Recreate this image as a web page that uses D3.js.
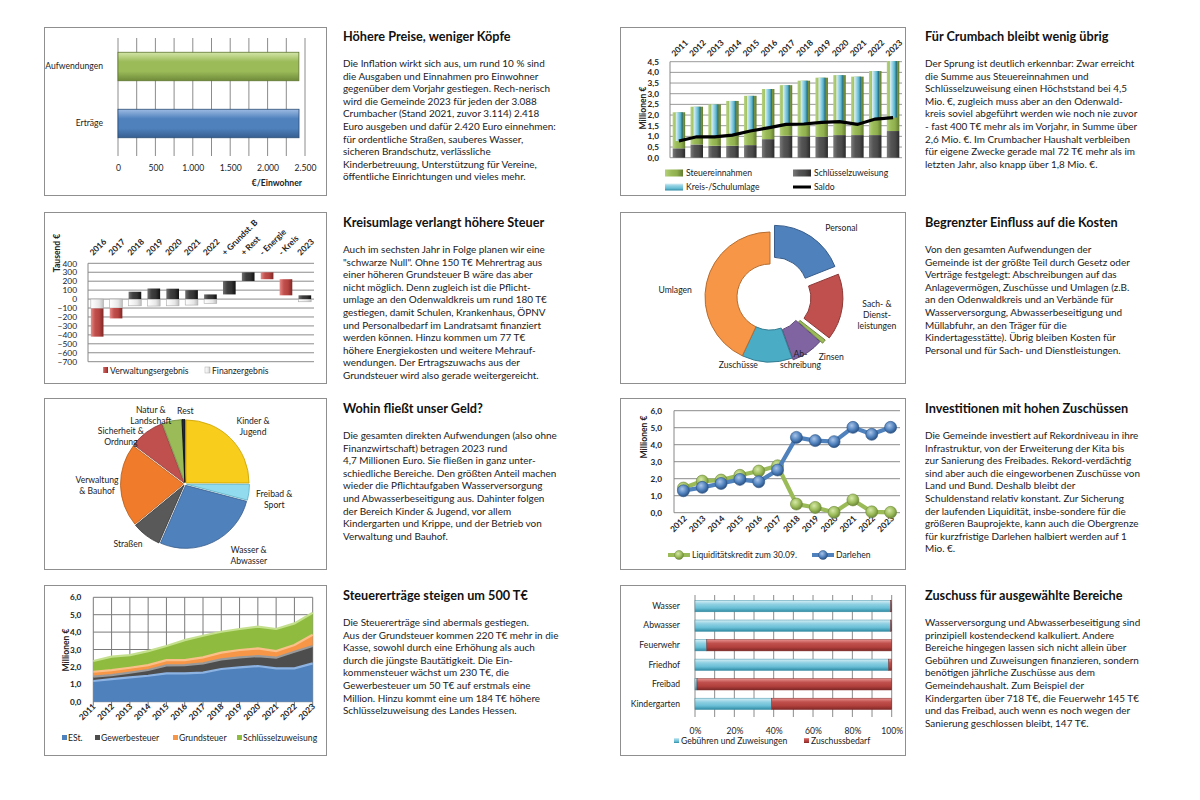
<!DOCTYPE html>
<html>
<head>
<meta charset="utf-8">
<script src="https://cdn.jsdelivr.net/npm/d3@7"></script>
<style>
    body { margin: 0; background: #fff; }
    svg text { font-family: Lato, "Open Sans", sans-serif; fill: #222; }
    .titel { font-size: 12.7px; font-weight: bold; fill: #111; }
    .fliess { font-size: 9.95px; }
    .tick text { font-size: 8.6px; fill: #222; }
    .lbl { font-size: 8.6px; }
    .achsTitel { font-size: 8.6px; font-weight: bold; }
    .jahr { font-size: 8.4px; font-weight: bold; }
</style>
</head>
<body>
<script>
    // Daten
    var proKopfKat = ["Aufwendungen", "Erträge"];
    var proKopfWerte = [2418, 2420];
    var proKopfTicks = [0, 500, 1000, 1500, 2000, 2500];

    var jahreA = ["2011", "2012", "2013", "2014", "2015", "2016", "2017", "2018", "2019", "2020", "2021", "2022", "2023"];
    var steuereinnahmen = [1.69, 1.77, 1.94, 2.10, 2.31, 2.35, 2.37, 2.61, 2.77, 2.81, 2.74, 3.00, 3.28];
    var schluesselzuweisung = [0.44, 0.62, 0.56, 0.56, 0.59, 0.87, 1.03, 1.00, 0.98, 1.06, 1.06, 1.06, 1.25];
    var kreisumlage = [1.35, 1.41, 1.52, 1.60, 1.65, 1.82, 1.84, 2.03, 2.09, 2.18, 2.24, 2.25, 2.65];
    var saldo = [0.78, 0.98, 0.98, 1.06, 1.25, 1.40, 1.56, 1.58, 1.66, 1.69, 1.56, 1.81, 1.88];

    var wfKat = ["2016", "2017", "2018", "2019", "2020", "2021", "2022", "+ Grundst. B", "+ Rest", "- Energie", "- Kreis", "2023"];
    var verwaltungsergebnis = [-315, -116, 82, 118, 116, 100, 52, 150, 97, -77, -180, 42];
    var finanzergebnis = [-105, -100, -75, -78, -75, -67, -48, 0, 0, 0, 0, -30];
    var wfSchritt = [false, false, false, false, false, false, false, true, true, true, true, false];

    var kostenArt = ["Personal", "Sach- & Dienstleistungen", "Zinsen", "Abschreibung", "Zuschüsse", "Umlagen"];
    var kostenZeilen = [["Personal"], ["Sach- &", "Dienst-", "leistungen"], ["Zinsen"], ["Ab-", "schreibung"], ["Zuschüsse"], ["Umlagen"]];
    var kostenAnteil = [19, 16.5, 1, 8, 12.5, 43];

    var bereiche = ["Kinder & Jugend", "Freibad & Sport", "Wasser & Abwasser", "Straßen", "Verwaltung & Bauhof", "Sicherheit & Ordnung", "Natur & Landschaft", "Rest"];
    var bereichZeilen = [["Kinder &", "Jugend"], ["Freibad &", "Sport"], ["Wasser &", "Abwasser"], ["Straßen"], ["Verwaltung", "& Bauhof"], ["Sicherheit &", "Ordnung"], ["Natur &", "Landschaft"], ["Rest"]];
    var bereichWerte = [1175, 190, 1290, 350, 1000, 420, 235, 35];

    var jahreB = ["2012", "2013", "2014", "2015", "2016", "2017", "2018", "2019", "2020", "2021", "2022", "2023"];
    var liquiditaetskredit = [1.45, 1.86, 1.92, 2.20, 2.45, 2.76, 0.51, 0.31, 0.02, 0.75, 0.05, 0.02];
    var darlehen = [1.29, 1.49, 1.72, 1.96, 1.82, 2.51, 4.43, 4.24, 4.18, 5.02, 4.61, 5.02];

    var est = [1.19, 1.30, 1.40, 1.49, 1.63, 1.63, 1.67, 1.88, 1.97, 2.05, 1.92, 1.92, 2.20];
    var gewerbesteuer = [0.25, 0.23, 0.27, 0.33, 0.46, 0.47, 0.53, 0.55, 0.58, 0.57, 0.61, 0.95, 1.00];
    var grundsteuer = [0.28, 0.29, 0.28, 0.28, 0.30, 0.29, 0.35, 0.39, 0.42, 0.44, 0.38, 0.39, 0.65];
    var schluessel = [0.62, 0.77, 0.73, 0.81, 0.81, 1.15, 1.24, 1.20, 1.21, 1.25, 1.27, 1.24, 1.26];

    var zuschussKat = ["Wasser", "Abwasser", "Feuerwehr", "Friedhof", "Freibad", "Kindergarten"];
    var gebuehrenAnteil = [99.5, 99.5, 6, 98.5, 1, 39];
    var zuschussAnteil = [0.5, 0.5, 94, 1.5, 99, 61];

    var de = d3.formatLocale({decimal: ",", thousands: ".", grouping: [3], currency: ["", " €"]});
    var f1 = de.format(",.1f"), fTsd = de.format(",");

    var svg = d3.select("body").append("svg").attr("width", 1200).attr("height", 800);
    var defs = svg.append("defs");

    function lgrad(id, farben, senkrecht) {
        var g = defs.append("linearGradient").attr("id", id)
            .attr("x1", 0).attr("y1", 0).attr("x2", senkrecht ? 0 : 1).attr("y2", senkrecht ? 1 : 0);
        farben.forEach(function (c, i) {
            g.append("stop").attr("offset", i / (farben.length - 1)).attr("stop-color", c);
        });
    }
    lgrad("hGruen", ["#d4e6a8", "#9bbb59", "#9bbb59", "#6f8a3a"], true);
    lgrad("hBlau", ["#9dbbe2", "#4f81bd", "#4f81bd", "#365f91"], true);
    lgrad("vGruen", ["#b5d27c", "#9bbb59", "#8fae4d", "#637d2f"], false);
    lgrad("vGrau", ["#7a7a7a", "#555", "#4a4a4a", "#2a2a2a"], false);
    lgrad("vCyan", ["#e4f4f8", "#9ed6e6", "#5bb6cf", "#1f5f70"], false);
    lgrad("vRot", ["#e88a87", "#c0504d", "#b5423f", "#7d2826"], false);
    lgrad("vDunkel", ["#707070", "#3f3f3f", "#333", "#111"], false);
    lgrad("vWeiss", ["#ffffff", "#f4f4f4", "#e6e6e6", "#bdbdbd"], false);
    lgrad("hCyan", ["#d7eff6", "#8fd0e2", "#69bfd6", "#2f8aa3"], true);
    lgrad("hRot", ["#e6928f", "#c0504d", "#b2403d", "#7d2826"], true);

    function rahmen(x, y, w, h) {
        svg.append("rect").attr("x", x).attr("y", y).attr("width", w).attr("height", h)
            .attr("fill", "#fff").attr("stroke", "#8f8f8f").attr("stroke-width", 1);
    }

    function textBlock(x, yTitel, titel, zeilen) {
        svg.append("text").attr("class", "titel").attr("x", x).attr("y", yTitel).text(titel);
        var t = svg.append("text").attr("class", "fliess");
        zeilen.forEach(function (z, i) {
            t.append("tspan").attr("x", x).attr("y", yTitel + 26 + i * 12.6).text(z);
        });
    }

    function stilAchse(g) {
        g.select(".domain").remove();
        g.selectAll(".tick line").remove();
    }

    function hLinien(g, werte, y, x0, x1, farbe) {
        g.selectAll(null).data(werte).join("line")
            .attr("x1", x0).attr("x2", x1)
            .attr("y1", function (d) { return y(d); }).attr("y2", function (d) { return y(d); })
            .attr("stroke", farbe || "#8c8c8c").attr("stroke-width", 1);
    }

    // ---------- 1: pro Einwohner ----------
    rahmen(44.5, 27.5, 282, 168);
    (function () {
        var g = svg.append("g");
        var x = d3.scaleLinear().domain([0, 2500]).range([118, 305]);
        var y = d3.scaleBand().domain(proKopfKat).range([38, 152]).paddingInner(0.5).paddingOuter(0.25);
        g.selectAll(null).data(d3.range(0, 2501, 250)).join("line")
            .attr("x1", function (d) { return x(d); }).attr("x2", function (d) { return x(d); })
            .attr("y1", 38).attr("y2", 156).attr("stroke", "#8c8c8c");
        g.selectAll(null).data(proKopfKat).join("rect")
            .attr("x", x(0)).attr("y", function (d) { return y(d); })
            .attr("width", function (d, i) { return x(proKopfWerte[i]) - x(0); })
            .attr("height", y.bandwidth())
            .attr("fill", function (d, i) { return i ? "url(#hBlau)" : "url(#hGruen)"; })
            .attr("stroke", function (d, i) { return i ? "#2c4d75" : "#5f7530"; }).attr("stroke-width", 0.8);
        g.append("g").attr("transform", "translate(0,152)")
            .call(d3.axisBottom(x).tickValues(proKopfTicks).tickFormat(fTsd).tickPadding(7)).call(stilAchse);
        g.append("g").attr("transform", "translate(118,0)")
            .call(d3.axisLeft(y).tickPadding(9)).call(stilAchse);
        g.append("text").attr("class", "achsTitel").attr("x", 302).attr("y", 186)
            .attr("text-anchor", "end").text("€/Einwohner");
    })();

    // ---------- 2: Steuern und Umlage ----------
    rahmen(620.5, 27.5, 285, 168);
    (function () {
        var g = svg.append("g");
        var x = d3.scaleBand().domain(jahreA).range([670, 902]).paddingInner(0.3).paddingOuter(0.15);
        var y = d3.scaleLinear().domain([0, 4.5]).range([157.7, 61.7]);
        var bw = x.bandwidth();
        hLinien(g, d3.range(0, 4.51, 0.5), y, 670, 902, "#9a9a9a");
        g.append("line").attr("x1", 670).attr("x2", 670).attr("y1", y(4.5)).attr("y2", y(0)).attr("stroke", "#888");
        g.append("g").attr("transform", "translate(670,0)")
            .call(d3.axisLeft(y).tickValues(d3.range(0, 4.51, 0.5)).tickFormat(f1).tickPadding(5)).call(stilAchse)
            .selectAll("text").style("font-weight", "bold").style("font-size", "8.2px");
        g.selectAll(null).data(jahreA).join("rect")
            .attr("x", function (d) { return x(d); }).attr("width", bw)
            .attr("y", function (d, i) { return y(schluesselzuweisung[i]); })
            .attr("height", function (d, i) { return y(0) - y(schluesselzuweisung[i]); })
            .attr("fill", "url(#vGrau)");
        g.selectAll(null).data(jahreA).join("rect")
            .attr("x", function (d) { return x(d); }).attr("width", bw)
            .attr("y", function (d, i) { return y(schluesselzuweisung[i] + steuereinnahmen[i]); })
            .attr("height", function (d, i) { return y(schluesselzuweisung[i]) - y(schluesselzuweisung[i] + steuereinnahmen[i]); })
            .attr("fill", "url(#vGruen)");
        g.selectAll(null).data(jahreA).join("rect")
            .attr("x", function (d) { return x(d) + bw / 2 - 3.2; }).attr("width", 7)
            .attr("y", function (d, i) { return y(saldo[i] + kreisumlage[i]); })
            .attr("height", function (d, i) { return y(saldo[i]) - y(saldo[i] + kreisumlage[i]); })
            .attr("fill", "url(#vCyan)");
        var linie = d3.line()
            .x(function (d, i) { return x(jahreA[i]) + bw / 2; })
            .y(function (d) { return y(d); });
        g.append("path").datum(saldo).attr("d", linie).attr("fill", "none")
            .attr("stroke", "#000").attr("stroke-width", 3.2);
        g.selectAll(null).data(jahreA).join("text").attr("class", "jahr")
            .attr("transform", function (d) { return "translate(" + (x(d) + bw / 2 - 4) + ",57) rotate(-45)"; })
            .text(function (d) { return d; });
        g.append("text").attr("class", "achsTitel")
            .attr("transform", "translate(646,108) rotate(-90)").attr("text-anchor", "middle").text("Millionen €");
        var leg = [
            {t: "Steuereinnahmen", x: 665, y: 173, f: "url(#vGruen)"},
            {t: "Schlüsselzuweisung", x: 793, y: 173, f: "url(#vGrau)"},
            {t: "Kreis-/Schulumlage", x: 665, y: 187, f: "url(#hCyan)"},
            {t: "Saldo", x: 793, y: 187, f: null}
        ];
        leg.forEach(function (l) {
            if (l.f) g.append("rect").attr("x", l.x).attr("y", l.y - 3.5).attr("width", 18).attr("height", 7).attr("fill", l.f);
            else g.append("line").attr("x1", l.x).attr("x2", l.x + 18).attr("y1", l.y).attr("y2", l.y).attr("stroke", "#000").attr("stroke-width", 3);
            g.append("text").attr("class", "lbl").attr("x", l.x + 21).attr("y", l.y + 3).text(l.t);
        });
    })();

    // ---------- 3: Wasserfall ----------
    rahmen(44.5, 212.5, 282, 171);
    (function () {
        var g = svg.append("g");
        var x = d3.scaleBand().domain(wfKat).range([88, 314]).paddingInner(0.33).paddingOuter(0.15);
        var y = d3.scaleLinear().domain([-700, 400]).range([361.7, 263.3]);
        hLinien(g, d3.range(-700, 401, 100), y, 88, 314, "#8c8c8c");
        g.append("line").attr("x1", 88).attr("x2", 88).attr("y1", y(400)).attr("y2", y(-700)).attr("stroke", "#888");
        g.append("g").attr("transform", "translate(88,0)")
            .call(d3.axisLeft(y).tickValues(d3.range(-700, 401, 100)).tickPadding(5)).call(stilAchse)
            .selectAll("text").style("font-size", "8.4px");
        var lauf = 0, segs = [];
        wfKat.forEach(function (k, i) {
            var v = verwaltungsergebnis[i], f = finanzergebnis[i];
            if (wfSchritt[i]) {
                segs.push({k: k, typ: "v", a: lauf, b: lauf + v, v: v});
                lauf += v;
            } else {
                if (f) segs.push({k: k, typ: "f", a: 0, b: f, v: f});
                if (v < 0) segs.push({k: k, typ: "v", a: f, b: f + v, v: v});
                else segs.push({k: k, typ: "v", a: 0, b: v, v: v});
                lauf = v;
            }
        });
        g.selectAll(null).data(segs).join("rect")
            .attr("x", function (d) { return x(d.k); }).attr("width", x.bandwidth())
            .attr("y", function (d) { return y(Math.max(d.a, d.b)); })
            .attr("height", function (d) { return Math.abs(y(d.a) - y(d.b)); })
            .attr("fill", function (d) { return d.typ === "f" ? "url(#vWeiss)" : (d.v < 0 ? "url(#vRot)" : "url(#vDunkel)"); })
            .attr("stroke", function (d) { return d.typ === "f" ? "#aaa" : "none"; }).attr("stroke-width", 0.6);
        g.selectAll(null).data(wfKat).join("text").attr("class", "jahr")
            .attr("transform", function (d) { return "translate(" + (x(d) + x.bandwidth() / 2 - 4) + ",256) rotate(-45)"; })
            .text(function (d) { return d; });
        g.append("text").attr("class", "achsTitel")
            .attr("transform", "translate(60,253) rotate(-90)").attr("text-anchor", "middle").text("Tausend €");
        g.append("rect").attr("x", 103).attr("y", 367).attr("width", 5).attr("height", 6).attr("fill", "url(#vRot)");
        g.append("text").attr("class", "lbl").attr("x", 110).attr("y", 374).text("Verwaltungsergebnis");
        g.append("rect").attr("x", 205).attr("y", 367).attr("width", 5).attr("height", 6).attr("fill", "url(#vWeiss)").attr("stroke", "#aaa").attr("stroke-width", 0.5);
        g.append("text").attr("class", "lbl").attr("x", 212).attr("y", 374).text("Finanzergebnis");
    })();

    // ---------- 4: Ring ----------
    rahmen(620.5, 212.5, 285, 171);
    (function () {
        var cx = 770, cy = 297;
        var g = svg.append("g").attr("transform", "translate(" + cx + "," + cy + ")");
        var farben = ["#4f81bd", "#c0504d", "#9bbb59", "#8064a2", "#4bacc6", "#f79646"];
        var rand = ["#385d8a", "#8c3836", "#71893f", "#5c4776", "#357d91", "#b66d31"];
        var heraus = [8, 8, 5, 2, 0, 0];
        var pie = d3.pie().sort(null).value(function (d) { return d; });
        var bogen = d3.arc().innerRadius(33).outerRadius(65);
        var boegen = pie(kostenAnteil);
        g.selectAll(null).data(boegen).join("path")
            .attr("transform", function (d, i) {
                var m = (d.startAngle + d.endAngle) / 2;
                return "translate(" + (Math.sin(m) * heraus[i]) + "," + (-Math.cos(m) * heraus[i]) + ")";
            })
            .attr("d", bogen)
            .attr("fill", function (d, i) { return farben[i]; })
            .attr("stroke", function (d, i) { return rand[i]; }).attr("stroke-width", 1);
        // Beschriftung: Winkel der Segmentmitte, Abstand und kleine Verschiebung je Etikett
        var lblR = [95, 102, 86, 72, 78, 92];
        var lblDx = [18, 6, -5, -10, -28, -5];
        var lblDy = [10, 4, 5, 3, -10, 13];
        g.selectAll(null).data(boegen).join("text").attr("class", "lbl")
            .attr("text-anchor", "middle")
            .each(function (d, i) {
                var m = (d.startAngle + d.endAngle) / 2;
                var px = Math.sin(m) * lblR[i] + lblDx[i], py = -Math.cos(m) * lblR[i] + lblDy[i];
                var z = kostenZeilen[i];
                d3.select(this).selectAll("tspan").data(z).join("tspan")
                    .attr("x", px).attr("y", function (t, j) { return py + 3 + (j - (z.length - 1) / 2) * 11; })
                    .text(function (t) { return t; });
            });
    })();

    // ---------- 5: Kreis ----------
    rahmen(44.5, 398.5, 282, 171);
    (function () {
        var cx = 185, cy = 484, r = 63;
        var g = svg.append("g").attr("transform", "translate(" + cx + "," + cy + ")");
        var farben = ["#f9cd1c", "#92dbee", "#4f81bd", "#595959", "#f07b2a", "#c0504d", "#9bbb59", "#1f2a44"];
        var rand = ["#c9a000", "#5aaec4", "#385d8a", "#333", "#b65a18", "#8c3836", "#71893f", "#000"];
        var pie = d3.pie().sort(null).value(function (d) { return d; });
        var bogen = d3.arc().innerRadius(0).outerRadius(r);
        var boegen = pie(bereichWerte);
        g.selectAll(null).data(boegen).join("path")
            .attr("transform", function (d, i) {
                var m = (d.startAngle + d.endAngle) / 2, e = 1.5;
                return "translate(" + (Math.sin(m) * e) + "," + (-Math.cos(m) * e) + ")";
            })
            .attr("d", bogen)
            .attr("fill", function (d, i) { return farben[i]; })
            .attr("stroke", function (d, i) { return rand[i]; }).attr("stroke-width", 0.8);
        var lblR = [82, 90, 82, 78, 88, 82, 80, 72];
        var lblDx = [10, 0, 28, -10, 0, -15, -18, 2];
        var lblDy = [0, 4, -2, -2, 0, 18, 10, -1];
        g.selectAll(null).data(boegen).join("text").attr("class", "lbl")
            .attr("text-anchor", "middle")
            .each(function (d, i) {
                var m = (d.startAngle + d.endAngle) / 2;
                var px = Math.sin(m) * lblR[i] + lblDx[i], py = -Math.cos(m) * lblR[i] + lblDy[i];
                var z = bereichZeilen[i];
                d3.select(this).selectAll("tspan").data(z).join("tspan")
                    .attr("x", px).attr("y", function (t, j) { return py + 3 + (j - (z.length - 1) / 2) * 11; })
                    .text(function (t) { return t; });
            });
    })();

    // ---------- 6: Linien ----------
    rahmen(620.5, 398.5, 285, 171);
    (function () {
        var g = svg.append("g");
        var x = d3.scalePoint().domain(jahreB).range([674, 900]).padding(0.5);
        var y = d3.scaleLinear().domain([0, 6]).range([512.7, 410.7]);
        hLinien(g, d3.range(0, 6.01, 1), y, 674, 900, "#8c8c8c");
        g.append("line").attr("x1", 674).attr("x2", 674).attr("y1", y(6)).attr("y2", y(0)).attr("stroke", "#888");
        g.append("g").attr("transform", "translate(674,0)")
            .call(d3.axisLeft(y).tickValues(d3.range(0, 6.01, 1)).tickFormat(f1).tickPadding(6)).call(stilAchse)
            .selectAll("text").style("font-weight", "bold").style("font-size", "8.2px");
        g.selectAll(null).data(jahreB).join("text").attr("class", "jahr")
            .attr("text-anchor", "end")
            .attr("transform", function (d) { return "translate(" + (x(d) + 4) + ",519) rotate(-45)"; })
            .text(function (d) { return d; });
        var reihen = [
            {w: liquiditaetskredit, f: "#9bbb59", d: "#6f8a3a", hell: "#d6e8a8"},
            {w: darlehen, f: "#4f81bd", d: "#2c5283", hell: "#a9c4e8"}
        ];
        reihen.forEach(function (s, k) {
            var rg = defs.append("radialGradient").attr("id", "mk" + k).attr("cx", "40%").attr("cy", "35%").attr("r", "65%");
            rg.append("stop").attr("offset", 0).attr("stop-color", s.hell);
            rg.append("stop").attr("offset", 0.6).attr("stop-color", s.f);
            rg.append("stop").attr("offset", 1).attr("stop-color", s.d);
            var linie = d3.line().x(function (d, i) { return x(jahreB[i]); }).y(function (d) { return y(d); });
            g.append("path").datum(s.w).attr("d", linie).attr("fill", "none").attr("stroke", s.f).attr("stroke-width", 4.2);
            g.selectAll(null).data(s.w).join("circle")
                .attr("cx", function (d, i) { return x(jahreB[i]); }).attr("cy", function (d) { return y(d); })
                .attr("r", 6).attr("fill", "url(#mk" + k + ")").attr("stroke", s.d).attr("stroke-width", 0.6);
        });
        g.append("text").attr("class", "achsTitel")
            .attr("transform", "translate(647,437) rotate(-90)").attr("text-anchor", "middle").text("Millionen €");
        [{t: "Liquiditätskredit zum 30.09.", x: 668, s: 0}, {t: "Darlehen", x: 812, s: 1}].forEach(function (l) {
            var s = reihen[l.s];
            g.append("line").attr("x1", l.x).attr("x2", l.x + 22).attr("y1", 555).attr("y2", 555).attr("stroke", s.f).attr("stroke-width", 4);
            g.append("circle").attr("cx", l.x + 11).attr("cy", 555).attr("r", 4.5).attr("fill", "url(#mk" + l.s + ")").attr("stroke", s.d).attr("stroke-width", 0.5);
            g.append("text").attr("class", "lbl").attr("x", l.x + 24).attr("y", 558).text(l.t);
        });
    })();

    // ---------- 7: Flächen ----------
    rahmen(44.5, 585.5, 282, 170);
    (function () {
        var g = svg.append("g");
        var x = d3.scalePoint().domain(jahreA).range([93.3, 312.7]);
        var y = d3.scaleLinear().domain([0, 6]).range([701.7, 597.3]);
        var tab = jahreA.map(function (j, i) {
            return {jahr: j, est: est[i], gew: gewerbesteuer[i], grund: grundsteuer[i], schl: schluessel[i]};
        });
        var stapel = d3.stack().keys(["est", "gew", "grund", "schl"])(tab);
        hLinien(g, d3.range(0, 6.01, 1), y, 93.3, 312.7, "#7a7a7a");
        g.selectAll(null).data(jahreA).join("line")
            .attr("x1", function (d) { return x(d); }).attr("x2", function (d) { return x(d); })
            .attr("y1", y(6)).attr("y2", y(0) + 4).attr("stroke", "#7a7a7a");
        var farben = ["#4f81bd", "#4d4d4d", "#f79646", "#8fbc3f"];
        var hell = ["#8db3e2", "#9a9a9a", "#fbc08a", "#c4e08e"];
        var flaeche = d3.area().x(function (d) { return x(d.data.jahr); })
            .y0(function (d) { return y(d[0]); }).y1(function (d) { return y(d[1]); });
        var oben = d3.line().x(function (d) { return x(d.data.jahr); }).y(function (d) { return y(d[1]); });
        g.selectAll(null).data(stapel).join("path").attr("d", flaeche)
            .attr("fill", function (d, i) { return farben[i]; });
        g.selectAll(null).data(stapel).join("path").attr("d", oben).attr("fill", "none")
            .attr("stroke", function (d, i) { return hell[i]; }).attr("stroke-width", 2.2);
        g.append("g").attr("transform", "translate(93.3,0)")
            .call(d3.axisLeft(y).tickValues(d3.range(0, 6.01, 1)).tickFormat(f1).tickPadding(6)).call(stilAchse)
            .selectAll("text").style("font-weight", "bold").style("font-size", "8.2px");
        g.selectAll(null).data(jahreA).join("text").attr("class", "jahr")
            .attr("text-anchor", "end")
            .attr("transform", function (d) { return "translate(" + (x(d) + 3) + ",707) rotate(-45)"; })
            .text(function (d) { return d; });
        g.append("text").attr("class", "achsTitel")
            .attr("transform", "translate(69,650) rotate(-90)").attr("text-anchor", "middle").text("Millionen €");
        var leg = [{t: "ESt.", x: 62}, {t: "Gewerbesteuer", x: 95}, {t: "Grundsteuer", x: 173}, {t: "Schlüsselzuweisung", x: 237}];
        leg.forEach(function (l, i) {
            g.append("rect").attr("x", l.x).attr("y", 735).attr("width", 5).attr("height", 5).attr("fill", farben[i]);
            g.append("text").attr("class", "lbl").attr("x", l.x + 6).attr("y", 741).text(l.t);
        });
    })();

    // ---------- 8: 100 % Balken ----------
    rahmen(620.5, 585.5, 285, 170);
    (function () {
        var g = svg.append("g");
        var x = d3.scaleLinear().domain([0, 100]).range([695, 891.7]);
        var y = d3.scaleBand().domain(zuschussKat).range([595, 715]).paddingInner(0.42).paddingOuter(0.28);
        g.selectAll(null).data(d3.range(0, 101, 10)).join("line")
            .attr("x1", function (d) { return x(d); }).attr("x2", function (d) { return x(d); })
            .attr("y1", 595).attr("y2", 717).attr("stroke", "#8c8c8c");
        g.selectAll(null).data(zuschussKat).join("rect")
            .attr("x", x(0)).attr("y", function (d) { return y(d); })
            .attr("width", function (d, i) { return x(gebuehrenAnteil[i]) - x(0); })
            .attr("height", y.bandwidth()).attr("fill", "url(#hCyan)")
            .attr("stroke", "#3e8ea5").attr("stroke-width", 0.5);
        g.selectAll(null).data(zuschussKat).join("rect")
            .attr("x", function (d, i) { return x(gebuehrenAnteil[i]); }).attr("y", function (d) { return y(d); })
            .attr("width", function (d, i) { return x(gebuehrenAnteil[i] + zuschussAnteil[i]) - x(gebuehrenAnteil[i]); })
            .attr("height", y.bandwidth()).attr("fill", "url(#hRot)")
            .attr("stroke", "#7d2826").attr("stroke-width", 0.5);
        g.append("g").attr("transform", "translate(0,715)")
            .call(d3.axisBottom(x).tickValues([0, 20, 40, 60, 80, 100]).tickFormat(function (d) { return d + "%"; }).tickPadding(7)).call(stilAchse);
        g.append("g").attr("transform", "translate(695,0)")
            .call(d3.axisLeft(y).tickPadding(9)).call(stilAchse);
        g.append("rect").attr("x", 674).attr("y", 738).attr("width", 5).attr("height", 5).attr("fill", "url(#hCyan)");
        g.append("text").attr("class", "lbl").attr("x", 681).attr("y", 744).text("Gebühren und Zuweisungen");
        g.append("rect").attr("x", 804).attr("y", 738).attr("width", 5).attr("height", 5).attr("fill", "url(#hRot)");
        g.append("text").attr("class", "lbl").attr("x", 811).attr("y", 744).text("Zuschussbedarf");
    })();

    // ---------- Texte ----------
    textBlock(343, 41, "Höhere Preise, weniger Köpfe", [
        "Die Inflation wirkt sich aus, um rund 10 % sind",
        "die Ausgaben und Einnahmen pro Einwohner",
        "gegenüber dem Vorjahr gestiegen. Rech-nerisch",
        "wird die Gemeinde 2023 für jeden der 3.088",
        "Crumbacher (Stand 2021, zuvor 3.114) 2.418",
        "Euro ausgeben und dafür 2.420 Euro einnehmen:",
        "für ordentliche Straßen, sauberes Wasser,",
        "sicheren Brandschutz, verlässliche",
        "Kinderbetreuung, Unterstützung für Vereine,",
        "öffentliche Einrichtungen und vieles mehr."
    ]);
    textBlock(925, 41, "Für Crumbach bleibt wenig übrig", [
        "Der Sprung ist deutlich erkennbar: Zwar erreicht",
        "die Summe aus Steuereinnahmen und",
        "Schlüsselzuweisung einen Höchststand bei 4,5",
        "Mio. €, zugleich muss aber an den Odenwald-",
        "kreis soviel abgeführt werden wie noch nie zuvor",
        "- fast 400 T€ mehr als im Vorjahr, in Summe über",
        "2,6 Mio. €. Im Crumbacher Haushalt verbleiben",
        "für eigene Zwecke gerade mal 72 T€ mehr als im",
        "letzten Jahr, also knapp über 1,8 Mio. €."
    ]);
    textBlock(343, 227, "Kreisumlage verlangt höhere Steuer", [
        "Auch im sechsten Jahr in Folge planen wir eine",
        "\"schwarze Null\". Ohne 150 T€ Mehrertrag aus",
        "einer höheren Grundsteuer B wäre das aber",
        "nicht möglich. Denn zugleich ist die Pflicht-",
        "umlage an den Odenwaldkreis um rund 180 T€",
        "gestiegen, damit Schulen, Krankenhaus, ÖPNV",
        "und Personalbedarf im Landratsamt finanziert",
        "werden können. Hinzu kommen um 77 T€",
        "höhere Energiekosten und weitere Mehrauf-",
        "wendungen. Der Ertragszuwachs aus der",
        "Grundsteuer wird also gerade weitergereicht."
    ]);
    textBlock(925, 227, "Begrenzter Einfluss auf die Kosten", [
        "Von den  gesamten Aufwendungen der",
        "Gemeinde ist der größte Teil durch Gesetz oder",
        "Verträge festgelegt: Abschreibungen auf das",
        "Anlagevermögen, Zuschüsse und Umlagen (z.B.",
        "an den Odenwaldkreis und an Verbände für",
        "Wasserversorgung, Abwasserbeseitigung und",
        "Müllabfuhr, an den Träger für die",
        "Kindertagesstätte). Übrig bleiben Kosten für",
        "Personal und für Sach- und Dienstleistungen."
    ]);
    textBlock(343, 413, "Wohin fließt unser Geld?", [
        "Die gesamten direkten Aufwendungen (also ohne",
        "Finanzwirtschaft) betragen 2023 rund",
        "4,7 Millionen Euro. Sie fließen in ganz unter-",
        "schiedliche Bereiche. Den größten Anteil machen",
        "wieder die Pflichtaufgaben Wasserversorgung",
        "und Abwasserbeseitigung aus. Dahinter folgen",
        "der Bereich Kinder & Jugend, vor allem",
        "Kindergarten und Krippe, und der Betrieb von",
        "Verwaltung und Bauhof."
    ]);
    textBlock(925, 413, "Investitionen mit hohen Zuschüssen", [
        "Die Gemeinde investiert auf Rekordniveau in ihre",
        "Infrastruktur, von der Erweiterung der Kita bis",
        "zur Sanierung des Freibades. Rekord-verdächtig",
        "sind aber auch die eingeworbenen Zuschüsse von",
        "Land und Bund. Deshalb bleibt der",
        "Schuldenstand relativ konstant. Zur Sicherung",
        "der laufenden Liquidität, insbe-sondere für die",
        "größeren Bauprojekte, kann auch die Obergrenze",
        "für kurzfristige Darlehen halbiert werden auf 1",
        "Mio. €."
    ]);
    textBlock(343, 600, "Steuererträge steigen um 500 T€", [
        "Die Steuererträge sind abermals gestiegen.",
        "Aus der Grundsteuer kommen 220 T€ mehr in die",
        "Kasse, sowohl durch eine Erhöhung als auch",
        "durch die jüngste Bautätigkeit. Die Ein-",
        "kommensteuer wächst um 230 T€, die",
        "Gewerbesteuer um 50 T€ auf erstmals eine",
        "Million. Hinzu kommt eine um 184 T€ höhere",
        "Schlüsselzuweisung des Landes Hessen."
    ]);
    textBlock(925, 600, "Zuschuss für ausgewählte Bereiche", [
        "Wasserversorgung und Abwasserbeseitigung sind",
        "prinzipiell kostendeckend kalkuliert. Andere",
        "Bereiche hingegen lassen sich nicht allein über",
        "Gebühren und Zuweisungen finanzieren, sondern",
        "benötigen jährliche Zuschüsse aus dem",
        "Gemeindehaushalt. Zum Beispiel der",
        "Kindergarten über 718 T€, die Feuerwehr 145 T€",
        "und das Freibad, auch wenn es noch wegen der",
        "Sanierung geschlossen bleibt, 147 T€."
    ]);
</script>
</body>
</html>
